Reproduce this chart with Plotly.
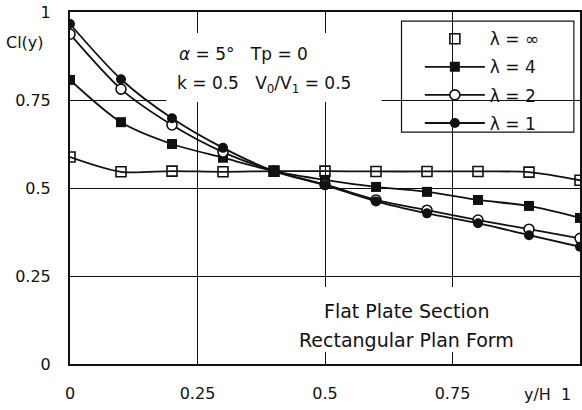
import plotly.graph_objects as go

# spanwise stations y/H
y_over_h = [0.0, 0.1, 0.2, 0.3, 0.4, 0.5, 0.6, 0.7, 0.8, 0.9, 1.0]

# local lift coefficient Cl(y) for each aspect ratio
cl_inf = [0.588, 0.546, 0.548, 0.546, 0.548, 0.548, 0.547, 0.547, 0.547, 0.545, 0.522]
cl_4 = [0.807, 0.687, 0.625, 0.586, 0.548, 0.523, 0.503, 0.489, 0.466, 0.449, 0.415]
cl_2 = [0.937, 0.781, 0.679, 0.602, 0.548, 0.510, 0.466, 0.437, 0.409, 0.383, 0.357]
cl_1 = [0.966, 0.809, 0.698, 0.614, 0.548, 0.508, 0.462, 0.428, 0.400, 0.366, 0.333]

x_ticks = [0, 0.25, 0.5, 0.75]
x_tick_text = ["0", "0.25", "0.5", "0.75"]
y_ticks = [0, 0.25, 0.5, 0.75, 1]
y_tick_text = ["0", "0.25", "0.5", "0.75", "1"]

FONT = "DejaVu Sans, sans-serif"
INK = "#111111"

fig = go.Figure()

line_style = dict(color=INK, width=1.8, shape="spline", smoothing=0.8)

# lambda = infinity: line drawn separately so the legend shows the marker only
fig.add_trace(go.Scatter(x=y_over_h, y=cl_inf, mode="lines", line=line_style,
                         showlegend=False, hoverinfo="skip"))
fig.add_trace(go.Scatter(x=y_over_h, y=cl_inf, mode="markers", name="λ = ∞",
                         legendgroup="inf",
                         marker=dict(symbol="square-open", size=10, color=INK,
                                     line=dict(width=1.6, color=INK))))
fig.add_trace(go.Scatter(x=y_over_h, y=cl_4, mode="lines+markers", name="λ = 4",
                         legendgroup="l4", line=line_style,
                         marker=dict(symbol="square", size=10, color=INK)))
fig.add_trace(go.Scatter(x=y_over_h, y=cl_2, mode="lines+markers", name="λ = 2",
                         legendgroup="l2", line=line_style,
                         marker=dict(symbol="circle", size=10, color="white",
                                     line=dict(width=1.6, color=INK))))
fig.add_trace(go.Scatter(x=y_over_h, y=cl_1, mode="lines+markers", name="λ = 1",
                         legendgroup="l1", line=line_style,
                         marker=dict(symbol="circle", size=10, color=INK)))

axis_common = dict(
    range=[0, 1],
    showline=True, linewidth=2, linecolor=INK, mirror=True,
    showgrid=True, gridcolor=INK, gridwidth=1,
    zeroline=False, ticks="",
    tickfont=dict(family=FONT, size=16, color=INK),
)

fig.update_xaxes(tickvals=x_ticks, ticktext=x_tick_text, ticklabelstandoff=14,
                 **axis_common)
fig.update_yaxes(tickvals=y_ticks, ticktext=y_tick_text, ticklabelstandoff=14,
                 **axis_common)

# white panels behind the text blocks, above the grid but below the curves
fig.add_shape(type="rect", xref="x", yref="y", x0=0.189, x1=0.611, y0=0.744, y1=0.940,
              fillcolor="white", line=dict(width=0), layer="between")
fig.add_shape(type="rect", xref="x", yref="y", x0=0.44, x1=0.88, y0=0.034, y1=0.219,
              fillcolor="white", line=dict(width=0), layer="between")
# framed panel behind the legend
fig.add_shape(type="rect", xref="paper", yref="paper", x0=0.650, x1=0.988,
              y0=0.659, y1=0.974, fillcolor="white",
              line=dict(width=1.2, color=INK), layer="between")


def label(x, y, text, size, xanchor="left"):
    fig.add_annotation(x=x, y=y, xref="paper", yref="paper",
                       xanchor=xanchor, yanchor="middle",
                       text=text, showarrow=False,
                       font=dict(family=FONT, size=size, color=INK))


label(0.209, 0.881, "<i>α</i> = 5°   Tp = 0", 17)
label(0.205, 0.795, "k = 0.5   V<sub>0</sub>/V<sub>1</sub> = 0.5", 17)
label(0.66, 0.151, "Flat Plate Section", 19, "center")
label(0.66, 0.068, "Rectangular Plan Form", 19, "center")
label(-0.088, 0.912, "Cl(y)", 16, "center")
label(0.986, -0.088, "y/H  1", 16, "right")

fig.update_layout(
    width=582, height=410,
    margin=dict(l=70, r=0, t=12, b=46),
    paper_bgcolor="white", plot_bgcolor="white",
    legend=dict(
        x=0.686, y=0.974, xanchor="left", yanchor="top",
        bgcolor="rgba(0,0,0,0)", borderwidth=0,
        font=dict(family=FONT, size=17, color=INK),
        itemwidth=60, tracegroupgap=3,
    ),
)

fig.write_html("out.html")
